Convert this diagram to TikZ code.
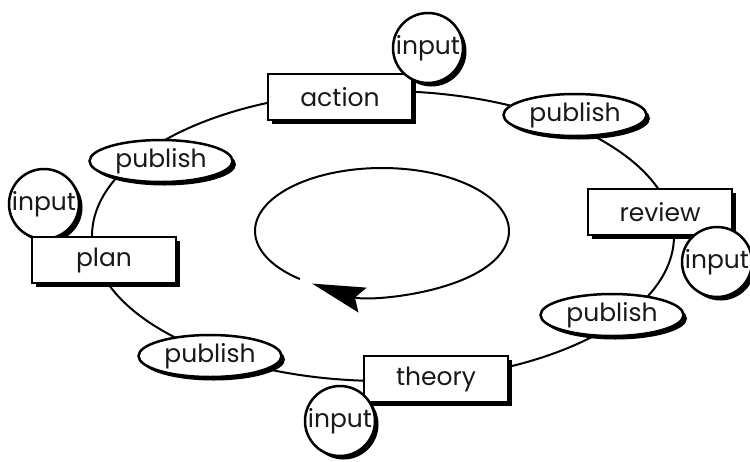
\documentclass[tikz,border=0pt]{standalone}
\usepackage{fontspec}
\setmainfont{Poppins}
\usetikzlibrary{shapes.geometric, shadows, arrows.meta}
\begin{document}
\begin{tikzpicture}[x=1pt, y=-1pt,
  ring/.style={line width=2pt},
  drop/.style={general shadow={fill=black, shadow xshift=3.5pt, shadow yshift=-3.5pt}},
  label text/.style={font=\fontsize{25}{29}\selectfont, text=black!90},
  stage/.style={draw, rectangle, line width=2.5pt, fill=white, drop, label text,
    minimum width=144pt, minimum height=46pt, inner sep=0pt},
  pub/.style={draw, ellipse, line width=2.5pt, fill=white, drop, label text,
    minimum width=143pt, minimum height=42pt, inner sep=0pt},
  inp/.style={draw, circle, line width=2.5pt, fill=white, drop, label text,
    minimum size=70pt, inner sep=0pt}
]
\useasboundingbox (0,0) rectangle (750,461);

% centres of the outer cycle and of the inner turning arrow
\coordinate (hub) at (383,236);
\coordinate (turn) at (382,231);

% outer cycle through all stages
\draw[ring] (hub) ellipse [x radius=291, y radius=145];

% inner turning arrow
\draw[ring, -{Stealth[length=53pt, width=26pt, inset=8pt]}]
  (turn) ++(130.3:127 and 63)
  arc[start angle=130.3, end angle=483.4, x radius=127, y radius=63];

% publish ellipses
\node[pub] (pubTL) at (161,161) {\makebox[0pt]{publish}};
\node[pub] (pubTR) at (575,115) {\makebox[0pt]{publish}};
\node[pub] (pubLR) at (612,315) {\makebox[0pt]{publish}};
\node[pub] (pubBL) at (210,356) {\makebox[0pt]{publish}};

% input circle of the plan stage sits behind its box
\node[inp] (inLeft) at (44,204) {\makebox[0pt]{input}};

% stages
\node[stage] (action) at (340,97) {\makebox[0pt]{action}};
\node[stage] (review) at (660,212) {\makebox[0pt]{review}};
\node[stage] (theory) at (436,379) {\makebox[0pt]{theory}};
\node[stage] (plan)   at (104,260) {\makebox[0pt]{plan}};

% remaining inputs
\node[inp] (inTop)   at (428,48)  {\makebox[0pt]{input}};
\node[inp] (inRight) at (717,262) {\makebox[0pt]{input}};
\node[inp] (inBot)   at (340,421) {\makebox[0pt]{input}};
\end{tikzpicture}
\end{document}
